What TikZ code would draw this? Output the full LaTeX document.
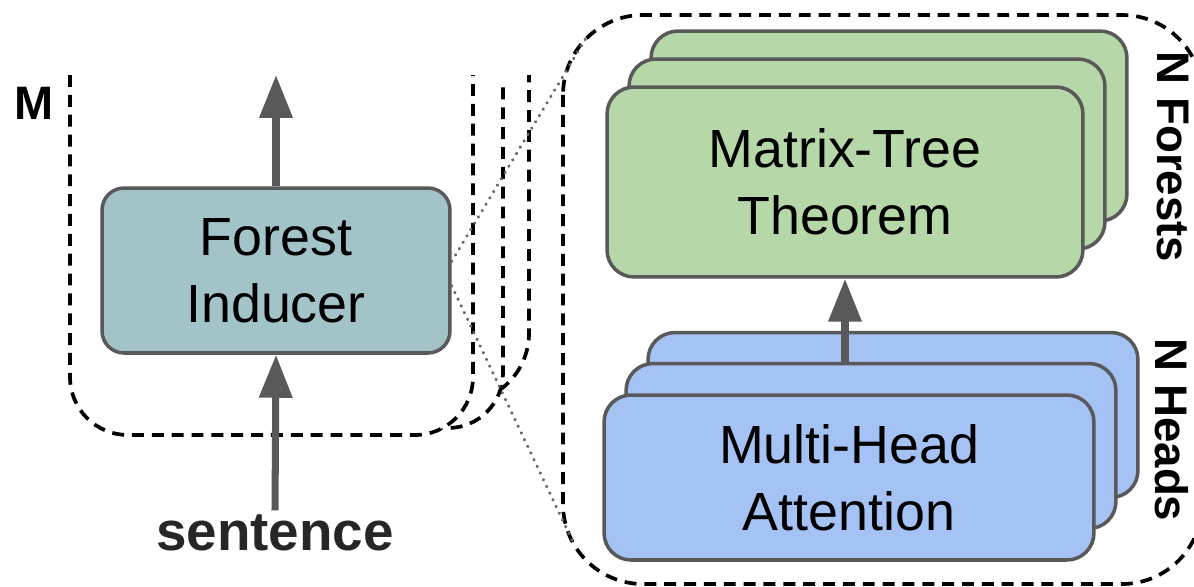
\documentclass[tikz,border=0pt]{standalone}
\usepackage{fontspec}
\setmainfont{Liberation Sans}
\usetikzlibrary{arrows.meta}

\definecolor{inducerfill}{HTML}{A2C4C9}
\definecolor{treefill}{HTML}{B6D7A8}
\definecolor{headfill}{HTML}{A4C2F4}
\definecolor{edgegrey}{HTML}{595959}
\definecolor{dotgrey}{HTML}{666666}

\begin{document}
\begin{tikzpicture}[x=0.02cm, y=-0.02cm,
    box/.style={draw=edgegrey, line width=2pt, rounded corners=0.54cm, align=center,
        font=\fontsize{30.6}{38}\selectfont},
    treebox/.style={box, fill=treefill, minimum width=9.52cm, minimum height=3.8cm},
    headbox/.style={box, fill=headfill, minimum width=9.8cm, minimum height=3.3cm},
    flow/.style={draw=edgegrey, line width=4pt, -{Triangle[length=0.86cm,width=0.64cm]}},
    loopline/.style={line width=2.1pt, dash pattern=on 6.8pt off 4.5pt},
    zoomline/.style={dotgrey, line width=2pt, line cap=round, dash pattern=on 0.01pt off 4.2pt},
    biglabel/.style={font=\bfseries\fontsize{26}{30}\selectfont, anchor=base}]
    \useasboundingbox (0,0) rectangle (1194,586);

    % repeated loops behind the inducer
    \draw [loopline, fill=white, rounded corners=1.4cm] (125,75) -- (125,403) -- (529,403) -- (529,75);
    \draw [loopline, fill=white, rounded corners=1.1cm] (100,80) -- (100,428) -- (503,428) -- (503,80);
    \draw [loopline, fill=white, rounded corners=1.16cm] (70,75) -- (70,435) -- (473,435) -- (473,75);
    \node [biglabel, font=\bfseries\fontsize{26.7}{30}\selectfont] (mlabel) at (34,119) {M};

    \node [box, fill=inducerfill, minimum width=6.96cm, minimum height=3.3cm, rounded corners=0.44cm]
        (inducer) at (276,270.5) {Forest\\Inducer};
    \node [font=\bfseries\fontsize{31.2}{36}\selectfont, anchor=base, text=black!85, inner sep=2pt]
        (sentence) at (275,550) {sentence};
    \coordinate (output) at (276,75);
    \draw [flow] (sentence.north) -- (inducer.south);
    \draw [flow] (inducer.north) -- (output);

    % expanded view
    \draw [loopline, rounded corners=1.6cm] (563,15) rectangle (1202,584);
    \coordinate (cornerNW) at (586,38);
    \coordinate (cornerSW) at (572,540);

    \node [treebox] (treeC) at (889,126) {};
    \node [treebox] (treeB) at (867,154) {};
    \node [treebox] (treeA) at (845,182) {Matrix-Tree\\Theorem};

    \node [headbox] (headC) at (893,415) {};
    \node [headbox] (headB) at (871,446) {};
    \node [headbox] (headA) at (849,477.5) {Multi-Head\\Attention};
    \draw [flow] (headB.north -| treeA.south) -- (treeA.south);

    \node [biglabel, rotate=-90] (forestcount) at (1157,157) {N Forests};
    \node [biglabel, rotate=-90] (headcount) at (1155,430) {N Heads};

    \draw [zoomline] (inducer.3) -- (cornerNW);
    \draw [zoomline] (inducer.-5) -- (cornerSW);
\end{tikzpicture}
\end{document}
